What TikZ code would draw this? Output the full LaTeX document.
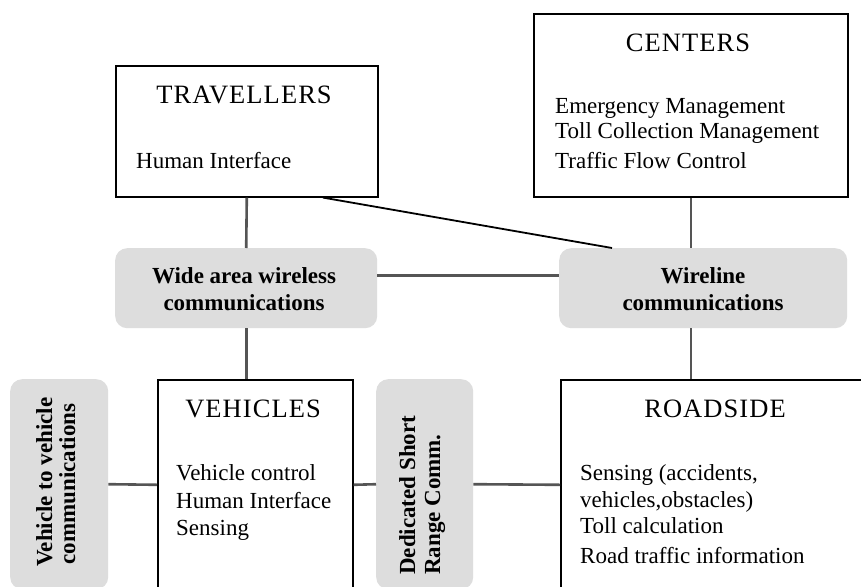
\documentclass[tikz,border=0pt]{standalone}
\usepackage{fontspec}
\setmainfont{Liberation Serif}
\newfontfamily\titlefont[LetterSpace=4]{Liberation Serif}
\usetikzlibrary{calc}
\definecolor{commgrey}{RGB}{221,221,221}
\definecolor{linkgrey}{RGB}{85,85,85}

\begin{document}
\begin{tikzpicture}[x=1pt,y=-1pt,
  box/.style={draw=black, line width=1.6pt, fill=white, inner sep=0pt, anchor=north west},
  commbox/.style={fill=commgrey, rounded corners=12pt, inner sep=0pt, anchor=north west},
  link/.style={draw=linkgrey, line width=2.6pt},
  diag/.style={draw=black, line width=1.8pt},
  title/.style={font=\titlefont\fontsize{26.5}{30}\selectfont, anchor=base, inner sep=0pt},
  item/.style={font=\fontsize{23}{26}\selectfont, anchor=base west, inner sep=0pt},
  commtext/.style={font=\bfseries\fontsize{23}{26}\selectfont, anchor=base, inner sep=0pt},
]
% page frame
\fill[white, use as bounding box] (0,0) rectangle (861,586);
\clip (0,0) rectangle (861,586);

% main blocks
\node[box, minimum width=262pt, minimum height=131pt] (trav) at (115,65) {};
\node[box, minimum width=314pt, minimum height=183pt] (cent) at (533,13) {};
\node[box, minimum width=195pt, minimum height=210pt] (veh) at (157,379) {};
\node[box, minimum width=320pt, minimum height=210pt] (road) at (560,379) {};

% communication links
\node[commbox, minimum width=262pt, minimum height=80pt] (wide) at (115,248) {};
\node[commbox, minimum width=288pt, minimum height=80pt] (wire) at (559,248) {};
\node[commbox, minimum width=98pt, minimum height=210pt] (v2v) at (10,379) {};
\node[commbox, minimum width=97pt, minimum height=210pt] (dsrc) at (376,379) {};

% connectors
\draw[link] (trav.south) -- (wide.north);
\draw[link] (wide.south) -- (wide.south |- veh.north);
\draw[link] ([yshift=13pt]wide.east) -- ([yshift=13pt]wire.west);
\draw[link] (cent.south) -- (cent.south |- wire.north);
\draw[link] (cent.south |- wire.south) -- (cent.south |- road.north);
\draw[diag] ($(trav.south west)+(208,0)$) -- ($(wire.north west)+(53,0)$);
\draw[link] (v2v.east) -- (veh.west);
\draw[link] (veh.east) -- (dsrc.west);
\draw[link] (dsrc.east) -- (road.west);

% TRAVELLERS
\node[title] (travT) at (244,103) {TRAVELLERS};
\node[item] (travA) at (136,168) {Human Interface};

% CENTERS
\node[title] (centT) at (688,52) {CENTERS};
\node[item] (centA) at (555,113) {Emergency Management};
\node[item] (centB) at (555,138) {Toll Collection Management};
\node[item] (centC) at (555,168) {Traffic Flow Control};

% wide area / wireline
\node[commtext] (wideA) at (244,283) {Wide area wireless};
\node[commtext] (wideB) at (244,310) {communications};
\node[commtext] (wireA) at (703,283) {Wireline};
\node[commtext] (wireB) at (703,310) {communications};

% VEHICLES
\node[title] (vehT) at (253,417) {VEHICLES};
\node[item] (vehA) at (176,480) {Vehicle control};
\node[item] (vehB) at (176,508) {Human Interface};
\node[item] (vehC) at (176,535) {Sensing};

% ROADSIDE
\node[title] (roadT) at (715,417) {ROADSIDE};
\node[item] (roadA) at (580,480) {Sensing (accidents,};
\node[item] (roadB) at (580,507) {vehicles,obstacles)};
\node[item] (roadC) at (580,533) {Toll calculation};
\node[item] (roadD) at (580,563) {Road traffic information};

% vertical labels
\node[commtext, rotate=90] (v2vA) at (52,482) {Vehicle to vehicle};
\node[commtext, rotate=90] (v2vB) at (75,484) {communications};
\node[commtext, rotate=90, anchor=base west] (dsrcA) at (415,575) {Dedicated Short};
\node[commtext, rotate=90, anchor=base west] (dsrcB) at (440,575) {Range Comm.};
\end{tikzpicture}
\end{document}
